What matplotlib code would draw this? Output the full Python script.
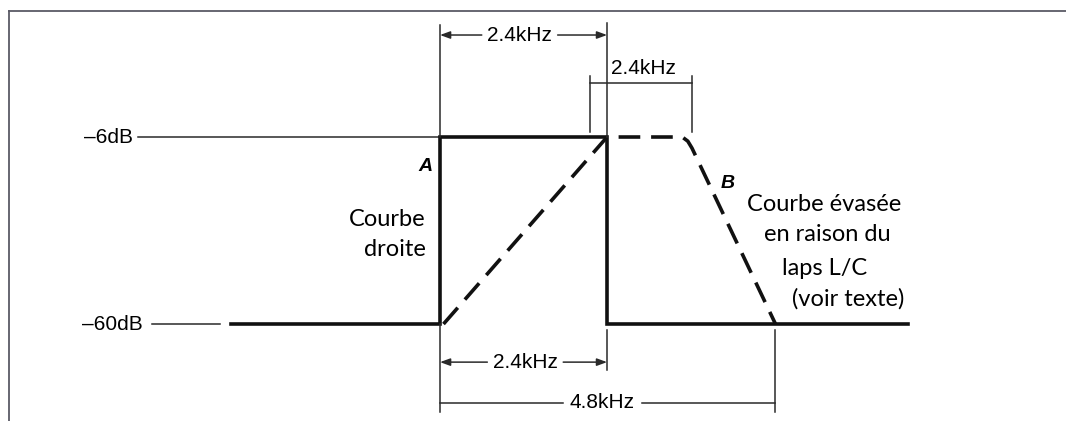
import matplotlib
matplotlib.use("Agg")
import matplotlib.pyplot as plt
from matplotlib.lines import Line2D

# response A: brick-wall filter (kHz, dB)
freq_a = [-3.0, 0.0, 0.0, 2.4, 2.4, 6.72]
level_a = [-60, -60, -6, -6, -60, -60]

# response B: sloped filter (kHz, dB)
freq_b = [0.05, 2.4, 3.48, 3.56, 3.62, 4.82]
level_b = [-60, -6, -6, -7.2, -9.2, -60]

levels = [-6, -60]
level_labels = ["\u20136dB", "\u201360dB"]

dim_label = "2.4kHz"
wide_label = "4.8kHz"

fig = plt.figure(figsize=(10.66, 4.21), dpi=100)
ax = fig.add_axes([0, 0, 1, 1])
ax.set_xlim(-6.322, 8.994)
ax.set_ylim(-88.0, 33.56)
ax.axis("off")

sans = "Liberation Sans"
geo = "Lato"
thin = dict(color="#2a2a2a", lw=1.1)

# frame (top and left only)
fig.add_artist(Line2D([9 / 1066, 1], [1 - 11 / 421] * 2, color="#5a5a66", lw=1.3))
fig.add_artist(Line2D([9 / 1066] * 2, [0, 1 - 11 / 421], color="#5a5a66", lw=1.3))

# level reference lines and labels
ax.plot([-4.34, 0], [levels[0]] * 2, **thin)
ax.plot([-4.14, -3.16], [levels[1]] * 2, **thin)
ax.text(-4.41, levels[0], level_labels[0], ha="right", va="center",
        fontsize=15, family=sans)
ax.text(-4.27, levels[1], level_labels[1], ha="right", va="center",
        fontsize=15, family=sans)

# curves
ax.plot(freq_a, level_a, color="#111111", lw=2.6, solid_joinstyle="miter")
ax.plot(freq_b, level_b, color="#111111", lw=2.6, dashes=(6, 3),
        dash_capstyle="butt")

# extension lines
ax.plot([0, 0], [26.3, -6], **thin)
ax.plot([2.4, 2.4], [27.0, -6], **thin)
ax.plot([2.155, 2.155], [11.5, -4.6], **thin)
ax.plot([3.62, 3.62], [11.5, -4.6], **thin)
ax.plot([0, 0], [-60, -85.4], **thin)
ax.plot([2.4, 2.4], [-61.7, -73.3], **thin)
ax.plot([4.82, 4.82], [-61.7, -85.4], **thin)

arrow = dict(arrowstyle="-|>,head_length=0.6,head_width=0.22",
             color="#2a2a2a", lw=1.1, shrinkA=0, shrinkB=0)


def dim(y, x0, x1, t0, t1, label):
    ax.annotate("", xy=(x0, y), xytext=(t0, y), arrowprops=arrow)
    ax.annotate("", xy=(x1, y), xytext=(t1, y), arrowprops=arrow)
    ax.text((t0 + t1) / 2, y, label, ha="center", va="center",
            fontsize=15, family=sans)


dim(23.45, 0, 2.4, 0.6, 1.69, dim_label)
dim(-71.0, 0, 2.4, 0.68, 1.77, dim_label)

# narrow dimension
ax.plot([2.155, 3.62], [9.6, 9.6], **thin)
ax.text(2.92, 13.9, dim_label, ha="center", va="center", fontsize=15,
        family=sans)

# 4.8 kHz dimension
ax.plot([0, 1.77], [-82.8, -82.8], **thin)
ax.plot([2.9, 4.82], [-82.8, -82.8], **thin)
ax.text(2.33, -82.8, wide_label, ha="center", va="center", fontsize=15,
        family=sans)

# curve annotations
ax.text(-0.21, -14.4, "A", ha="center", va="center", fontsize=14,
        fontweight="bold", style="italic", family=sans)
ax.text(4.14, -19.3, "B", ha="center", va="center", fontsize=14,
        fontweight="bold", style="italic", family=sans)
ax.text(-0.21, -29.8, "Courbe", ha="right", va="center", fontsize=17,
        family=geo)
ax.text(-0.21, -38.5, "droite", ha="right", va="center", fontsize=17,
        family=geo)

note_x = [5.52, 5.57, 5.53, 5.86]
note_y = [-25.5, -34.2, -44.0, -52.6]
note_lines = ["Courbe \u00e9vas\u00e9e", "en raison du", "laps L/C", "(voir texte)"]
for x, y, s in zip(note_x, note_y, note_lines):
    ax.text(x, y, s, ha="center", va="center", fontsize=17, family=geo)

fig.savefig("out.png", dpi=100)
